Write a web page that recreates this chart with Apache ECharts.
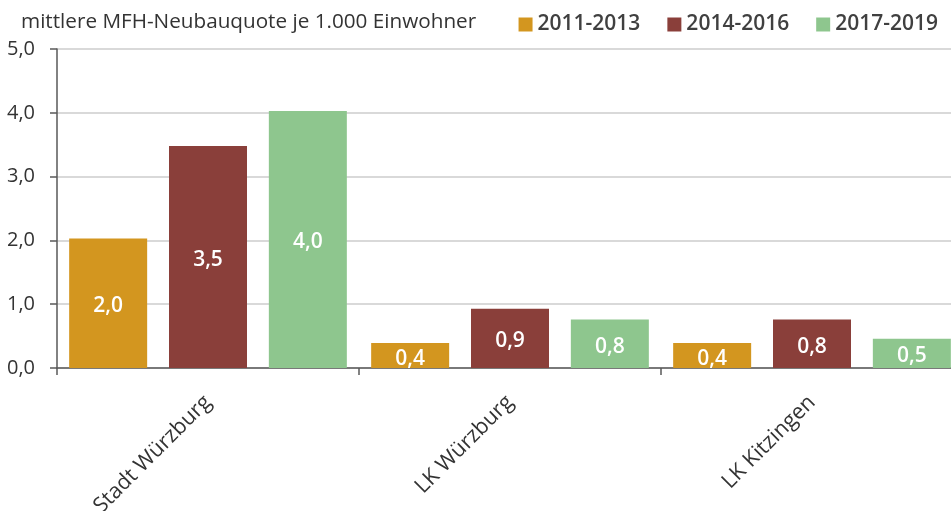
<!DOCTYPE html>
<html>
<head>
<meta charset="utf-8">
<script src="https://cdn.jsdelivr.net/npm/echarts@6/dist/echarts.min.js"></script>
<style>html,body{margin:0;padding:0;background:#fff}#c{width:951px;height:511px}</style>
</head>
<body>
<div id="c"></div>
<script>
const categories = ['Stadt Würzburg', 'LK Würzburg', 'LK Kitzingen'];
const seriesNames = ['2011-2013', '2014-2016', '2017-2019'];
const values2011 = [2.03, 0.39, 0.39];
const values2014 = [3.48, 0.93, 0.76];
const values2017 = [4.03, 0.76, 0.46];
const yTicks = [0, 1, 2, 3, 4, 5];
const colors = ['#D3961F', '#8A3F3A', '#8EC68E'];
const titleText = 'mittlere MFH-Neubauquote je 1.000 Einwohner';

const fmt = v => v.toFixed(1).replace('.', ',');
const font = '"Open Sans", "Noto Sans", sans-serif';
const chart = echarts.init(document.getElementById('c'), null, {renderer: 'canvas'});
const data = [values2011, values2014, values2017];
chart.setOption({
  animation: false,
  title: {text: titleText, left: 16, top: 7, textStyle: {fontFamily: font, fontSize: 20.7, fontWeight: 'normal', color: '#333'}},
  legend: {right: 8, top: 9, itemWidth: 14, itemHeight: 14, itemGap: 27,
    icon: 'rect', data: seriesNames,
    textStyle: {fontFamily: font, fontSize: 21, fontWeight: 600, color: '#404040'}},
  grid: {left: 57, width: 906, top: 49, bottom: 143, containLabel: false, outerBoundsMode: 'none'},
  xAxis: {type: 'category', data: categories,
    axisLine: {lineStyle: {color: '#595959', width: 1.5}},
    axisTick: {show: true, length: 7, lineStyle: {color: '#595959', width: 1.5}},
    axisLabel: {rotate: 45, margin: 31, fontFamily: font, fontSize: 21.5, color: '#333'}},
  yAxis: {type: 'value', min: 0, max: 5, interval: 1,
    axisLine: {show: true, lineStyle: {color: '#595959', width: 1.5}},
    axisTick: {show: true, length: 7, lineStyle: {color: '#595959', width: 1.5}},
    splitLine: {lineStyle: {color: '#d9d9d9', width: 2}},
    axisLabel: {margin: 22, fontFamily: font, fontSize: 20, color: '#333', formatter: v => fmt(v)}},
  series: seriesNames.map((n, i) => ({
    name: n, type: 'bar', data: data[i], barWidth: 78, barGap: '28%',
    itemStyle: {color: colors[i]},
    label: {show: true, position: 'inside', offset: [0, 3], formatter: p => fmt(p.value),
      fontFamily: font, fontSize: 21, fontWeight: 600, color: '#fff'}
  }))
});
</script>
</body>
</html>
